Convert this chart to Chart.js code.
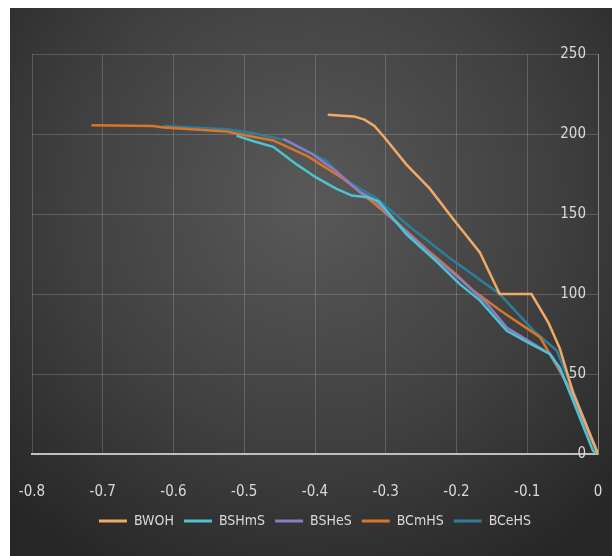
<!DOCTYPE html>
<html>
<head>
<meta charset="utf-8">
<script src="https://cdn.jsdelivr.net/npm/chart.js@4/dist/chart.umd.min.js"></script>
<style>
    body { margin: 0; background: #fff; }
    canvas { display: block; }
</style>
</head>
<body>
<canvas id="grafico" width="612" height="556"></canvas>
<script>
// valores (x = deformacion, y = carga)
var bwohX = [-0.382, -0.345, -0.330, -0.316, -0.302, -0.271, -0.238, -0.205, -0.167, -0.139, -0.094, -0.070, -0.054, -0.035, 0];
var bwohY = [212, 211, 209, 205, 198, 181, 166, 147, 126, 100, 100, 82, 66, 38, 0];

var bshmsX = [-0.511, -0.487, -0.459, -0.426, -0.399, -0.371, -0.348, -0.326, -0.310, -0.270, -0.230, -0.195, -0.167, -0.129, -0.096, -0.068, -0.054, -0.007, 0];
var bshmsY = [199, 195.5, 192, 181, 173, 166, 161.5, 160.5, 158, 137, 121, 106, 96, 77, 69, 62.5, 54, 2, 0];

var bshesX = [-0.445, -0.404, -0.371, -0.337, -0.315, -0.293, -0.238, -0.194, -0.157, -0.129, -0.092, -0.068, -0.054, 0];
var bshesY = [197, 187.5, 177, 164, 158.5, 148, 125.5, 109, 94, 79, 69, 62.5, 53, 0];

var bcmhsX = [-0.716, -0.629, -0.614, -0.525, -0.497, -0.459, -0.410, -0.360, -0.320, -0.280, -0.240, -0.200, -0.176, -0.139, -0.082, -0.035, 0];
var bcmhsY = [205.5, 205, 204, 201.5, 199, 196, 186, 172, 158, 143, 127, 112, 102, 90, 73, 37.5, 0];

var bcehsX = [-0.614, -0.525, -0.487, -0.440, -0.405, -0.383, -0.360, -0.313, -0.266, -0.211, -0.139, -0.091, -0.058, 0];
var bcehsY = [205, 203, 200.5, 196, 188, 183, 172, 160, 142, 123, 100, 77, 64.5, 0];

var xTicks = { min: -0.8, max: 0, step: 0.1 };
var yTicks = { min: 0, max: 250, step: 50 };

function puntos(xs, ys) {
    var arr = [];
    for (var i = 0; i < xs.length; i++) {
        arr.push({ x: xs[i], y: ys[i] });
    }
    return arr;
}

function serie(nombre, xs, ys, color, ancho) {
    return {
        label: nombre,
        data: puntos(xs, ys),
        borderColor: color,
        backgroundColor: color,
        borderWidth: ancho,
        showLine: true,
        pointRadius: 0,
        tension: 0
    };
}

var fondo = {
    id: 'fondo',
    beforeDraw: function (chart) {
        var ctx = chart.ctx;
        ctx.save();
        ctx.fillStyle = '#ffffff';
        ctx.fillRect(0, 0, chart.width, chart.height);
        var g = ctx.createRadialGradient(310, 200, 10, 310, 200, 430);
        g.addColorStop(0, '#585858');
        g.addColorStop(0.55, '#404040');
        g.addColorStop(1, '#262626');
        ctx.fillStyle = g;
        ctx.fillRect(10, 8, chart.width - 10, chart.height - 8);
        ctx.restore();
    }
};

var fuente = "'DejaVu Sans Condensed', 'DejaVu Sans', sans-serif";

var GRAFICO = new Chart(document.getElementById("grafico"), {
    type: 'scatter',
    data: {
        datasets: [
            serie('BWOH', bwohX, bwohY, '#f2a965', 2.5),
            serie('BSHmS', bshmsX, bshmsY, '#4cc3cf', 2.5),
            serie('BSHeS', bshesX, bshesY, '#8c7cc4', 2.5),
            serie('BCmHS', bcmhsX, bcmhsY, '#d9762a', 2.5),
            serie('BCeHS', bcehsX, bcehsY, '#2f7d99', 2.5)
        ]
    },
    options: {
        responsive: false,
        animation: false,
        layout: {
            padding: { left: 32, right: 14, top: 54, bottom: 18 }
        },
        plugins: {
            legend: {
                position: 'bottom',
                labels: {
                    boxWidth: 28,
                    boxHeight: 3,
                    padding: 10,
                    color: '#d9d9d9',
                    font: { family: fuente, size: 14 },
                    generateLabels: function (chart) {
                        var items = Chart.defaults.plugins.legend.labels.generateLabels(chart);
                        items.forEach(function (it) { it.lineWidth = 0; });
                        return items;
                    }
                }
            },
            tooltip: { enabled: false }
        },
        scales: {
            x: {
                type: 'linear',
                min: xTicks.min,
                max: xTicks.max,
                grid: { color: 'rgba(217,217,217,0.22)', drawTicks: true, tickLength: 27, tickColor: 'rgba(0,0,0,0)' },
                border: { color: '#bfbfbf', width: 2 },
                ticks: {
                    stepSize: xTicks.step,
                    padding: 2,
                    color: '#d9d9d9',
                    font: { family: fuente, size: 15 },
                    callback: function (v) { return (Math.round(v * 10) / 10).toString(); }
                },
                afterFit: function (s) { s.height = 50; }
            },
            y: {
                position: 'right',
                min: yTicks.min,
                max: yTicks.max,
                grid: { color: 'rgba(217,217,217,0.22)', drawTicks: false },
                border: { color: '#8c8c8c', width: 1 },
                ticks: {
                    stepSize: yTicks.step,
                    mirror: true,
                    padding: -12,
                    color: '#d9d9d9',
                    font: { family: fuente, size: 15 }
                },
                afterFit: function (s) { s.width = 0; }
            }
        }
    },
    plugins: [fondo]
});
</script>
</body>
</html>
